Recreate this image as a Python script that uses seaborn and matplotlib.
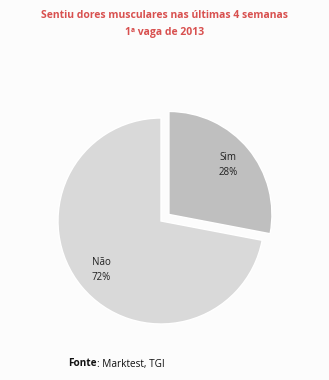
import matplotlib
matplotlib.use("Agg")
import matplotlib.pyplot as plt
import seaborn as sns

categories = ["Não", "Sim"]
values = [72, 28]
colors = ["#d9d9d9", "#bfbfbf"]
title_lines = ["Sentiu dores musculares nas últimas 4 semanas", "1ª vaga de 2013"]

sns.set_style("white")
plt.rcParams["font.family"] = ["Open Sans", "DejaVu Sans"]

fig = plt.figure(figsize=(3.29, 3.80), dpi=100, facecolor="#fcfcfc")
ax = fig.add_axes([(161 - 103) / 329, 1 - (221 + 103) / 380, 206 / 329, 206 / 380])
ax.set_facecolor("#fcfcfc")

labels = [f"{c}\n{v}%" for c, v in zip(categories, values)]
# order: Sim first clockwise from top, then Não
wedges, texts = ax.pie(
    values[::-1],
    labels=labels[::-1],
    colors=colors[::-1],
    startangle=90,
    counterclock=False,
    explode=[0.1, 0],
    labeldistance=0.75,
    radius=1.0,
    textprops=dict(fontsize=7, color="#222222", ha="center", va="center", linespacing=1.5),
)
ax.set_xlim(-1, 1)
ax.set_ylim(-1, 1)
ax.set_aspect("equal")
ax.axis("off")

fig.text(0.5, 1 - 16 / 380, title_lines[0], ha="center", va="center",
         fontsize=7.5, color="#d8504f", fontweight="bold")
fig.text(0.5, 1 - 33 / 380, title_lines[1], ha="center", va="center",
         fontsize=7.5, color="#d8504f", fontweight="bold")

t1 = fig.text(68 / 329, 1 - 364 / 380, "Fonte", ha="left", va="center",
              fontsize=7.2, fontweight="bold", color="#111111")
fig.canvas.draw()
bb = t1.get_window_extent()
fig.text(bb.x1 / fig.bbox.width, 1 - 364 / 380, ": Marktest, TGI", ha="left", va="center",
         fontsize=7.2, color="#111111")

fig.savefig("out.png", dpi=100, facecolor=fig.get_facecolor())
